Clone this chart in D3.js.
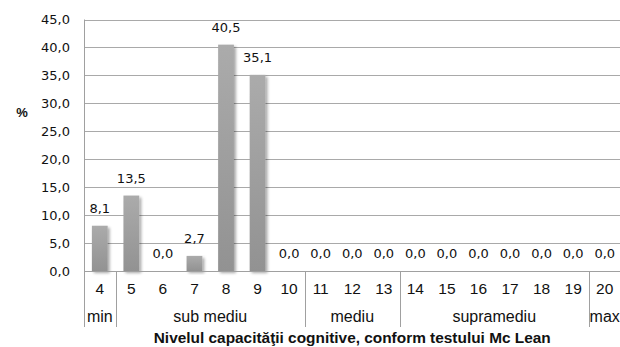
<!DOCTYPE html>
<html>
<head>
<meta charset="utf-8">
<script src="https://cdn.jsdelivr.net/npm/d3@7/dist/d3.min.js"></script>
<style>
  html, body { margin: 0; padding: 0; background: #fff; }
  svg { display: block; }
</style>
</head>
<body>
<svg id="chart" width="620" height="347"></svg>
<script>
// Scores on the Mc Lean test and the share of respondents (%) for each score
const scores = ["4","5","6","7","8","9","10","11","12","13","14","15","16","17","18","19","20"];
const percents = [8.1, 13.5, 0.0, 2.7, 40.5, 35.1, 0.0, 0.0, 0.0, 0.0, 0.0, 0.0, 0.0, 0.0, 0.0, 0.0, 0.0];
// Level groups along the category axis: label, first score, last score
const groupLabels = ["min", "sub mediu", "mediu", "supramediu", "max"];
const groupStart = ["4", "5", "11", "14", "20"];
const groupEnd = ["4", "10", "13", "19", "20"];
const yTicks = [0, 5, 10, 15, 20, 25, 30, 35, 40, 45];

const svg = d3.select("#chart");
const plotLeft = 84, plotRight = 620.5, plotTop = 19.5, plotBottom = 271;

const x = d3.scaleBand().domain(scores).range([plotLeft, plotRight])
  .paddingInner(0.5).paddingOuter(0.25);
const y = d3.scaleLinear().domain([0, 45]).range([plotBottom, plotTop]);
const step = x.step();
const catLeft = s => x(s) - x.paddingOuter() * step;   // left edge of a category slot

const fmt = v => d3.format(".1f")(v).replace(".", ",");

// Bar fill and soft shadow
const defs = svg.append("defs");
const grad = defs.append("linearGradient").attr("id", "barGrad")
  .attr("x1", 0).attr("y1", 0).attr("x2", 0).attr("y2", 1);
grad.append("stop").attr("offset", "0%").attr("stop-color", "#ababab");
grad.append("stop").attr("offset", "100%").attr("stop-color", "#929292");
const shadow = defs.append("filter").attr("id", "shadow")
  .attr("x", "-50%").attr("y", "-10%").attr("width", "200%").attr("height", "130%");
shadow.append("feGaussianBlur").attr("in", "SourceAlpha").attr("stdDeviation", 1.6).attr("result", "b");
shadow.append("feOffset").attr("in", "b").attr("dx", 1.5).attr("dy", 1.5).attr("result", "o");
shadow.append("feComponentTransfer").attr("in", "o").attr("result", "s")
  .append("feFuncA").attr("type", "linear").attr("slope", 0.35);
const merge = shadow.append("feMerge");
merge.append("feMergeNode").attr("in", "s");
merge.append("feMergeNode").attr("in", "SourceGraphic");

// Horizontal gridlines
svg.append("g").selectAll("line").data(yTicks).join("line")
  .attr("x1", plotLeft).attr("x2", plotRight)
  .attr("y1", d => Math.round(y(d)) + 0.5).attr("y2", d => Math.round(y(d)) + 0.5)
  .attr("stroke", "#a9a9a9").attr("stroke-width", 1);

// Y axis tick labels
const yAxis = d3.axisLeft(y).tickValues(yTicks).tickFormat(fmt).tickSize(0).tickPadding(14);
svg.append("g").attr("transform", `translate(${plotLeft},0)`).call(yAxis)
  .call(g => g.select(".domain").remove())
  .call(g => g.selectAll("text")
    .attr("font-family", "DejaVu Sans").attr("font-size", 13).attr("fill", "#111"));

// Left axis line, continuing down through the category rows
svg.append("line").attr("x1", plotLeft + 0.5).attr("x2", plotLeft + 0.5)
  .attr("y1", plotTop).attr("y2", 327).attr("stroke", "#a0a0a0");

// Bars
svg.append("g").selectAll("rect").data(scores.map((s, i) => ({ s, v: percents[i] })))
  .join("rect")
  .attr("x", d => x(d.s)).attr("width", x.bandwidth())
  .attr("y", d => y(d.v)).attr("height", d => y(0) - y(d.v))
  .attr("fill", "url(#barGrad)").attr("filter", "url(#shadow)");

// Value labels above the bars
svg.append("g").selectAll("text").data(scores.map((s, i) => ({ s, v: percents[i] })))
  .join("text")
  .attr("x", d => x(d.s) + x.bandwidth() / 2)
  .attr("y", d => y(d.v) - 13)
  .attr("text-anchor", "middle")
  .attr("font-family", "DejaVu Sans").attr("font-size", 13).attr("fill", "#111")
  .text(d => fmt(d.v));

// Category axis baseline
svg.append("line").attr("x1", plotLeft).attr("x2", plotRight)
  .attr("y1", Math.round(y(0)) + 0.5).attr("y2", Math.round(y(0)) + 0.5)
  .attr("stroke", "#a0a0a0");

// Score labels
svg.append("g").selectAll("text").data(scores).join("text")
  .attr("x", d => x(d) + x.bandwidth() / 2).attr("y", 293.5)
  .attr("text-anchor", "middle")
  .attr("font-family", "Liberation Sans").attr("font-size", 15.5).attr("fill", "#111")
  .text(d => d);

// Group separators and group labels
const groups = groupLabels.map((g, i) => ({
  label: g,
  x0: catLeft(groupStart[i]),
  x1: catLeft(groupEnd[i]) + step
}));
svg.append("g").selectAll("line").data(groups.slice(1)).join("line")
  .attr("x1", d => Math.round(d.x0) + 0.5).attr("x2", d => Math.round(d.x0) + 0.5)
  .attr("y1", y(0)).attr("y2", 327)
  .attr("stroke", "#a0a0a0");
svg.append("g").selectAll("text").data(groups).join("text")
  .attr("x", d => (d.x0 + d.x1) / 2).attr("y", 321.5)
  .attr("text-anchor", "middle")
  .attr("font-family", "Liberation Sans").attr("font-size", 16).attr("fill", "#111")
  .text(d => d.label);

// Axis titles
svg.append("text").attr("x", 22).attr("y", 117)
  .attr("text-anchor", "middle")
  .attr("font-family", "Liberation Sans").attr("font-weight", "bold").attr("font-size", 13)
  .attr("fill", "#111").text("%");

svg.append("text").attr("x", (plotLeft + plotRight) / 2).attr("y", 343)
  .attr("text-anchor", "middle")
  .attr("font-family", "Liberation Sans").attr("font-weight", "bold").attr("font-size", 14.5)
  .attr("textLength", 397).attr("lengthAdjust", "spacingAndGlyphs")
  .attr("fill", "#111")
  .text("Nivelul  capacităţii cognitive, conform testului Mc Lean");
</script>
</body>
</html>
